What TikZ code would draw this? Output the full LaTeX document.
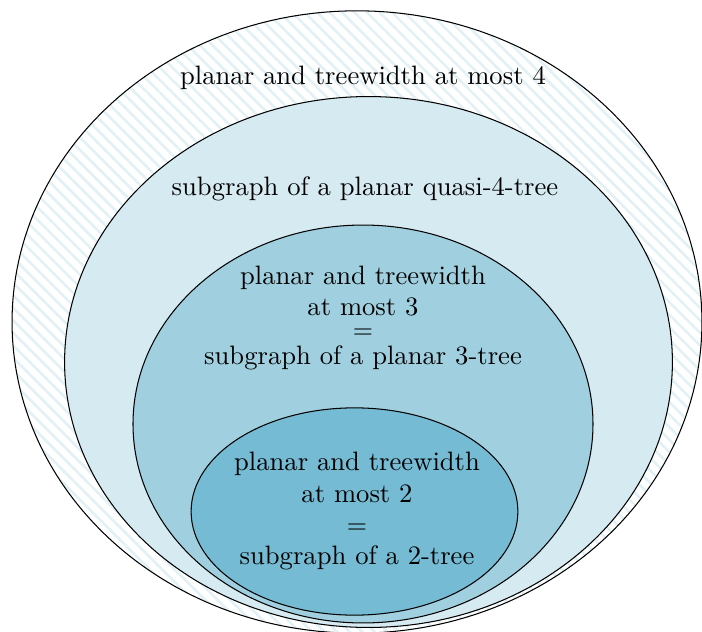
\documentclass[tikz,border=0pt]{standalone}
\usetikzlibrary{patterns.meta}
\definecolor{hatchc}{HTML}{E2F1F5}
\definecolor{lvA}{HTML}{D6EAF1}
\definecolor{lvB}{HTML}{A0D0E0}
\definecolor{lvC}{HTML}{75BBD3}
\tikzset{
  region/.style={draw=black, line width=0.4pt},
  lbl/.style={anchor=base, inner sep=0pt, font=\fontsize{10.25}{12}\selectfont}
}
\begin{document}
\begin{tikzpicture}[x=0.385pt,y=-0.385pt]
\useasboundingbox (0,0) rectangle (702,632);
% outer: planar and treewidth <= 4
\fill[pattern={Lines[angle=-45,distance=3.4pt,line width=1pt]}, pattern color=hatchc]
  (357,322) ellipse [x radius=132.8pt, y radius=119.8pt];
\draw[region] (357,322) ellipse [x radius=132.8pt, y radius=119.8pt];
% second
\filldraw[region, fill=lvA] (368.5,362) ellipse [x radius=117.0pt, y radius=102.2pt];
% third
\filldraw[region, fill=lvB] (363,424) ellipse [x radius=88.55pt, y radius=76.6pt];
% fourth
\filldraw[region, fill=lvC] (354.5,511.5) ellipse [x radius=62.9pt, y radius=39.9pt];
% labels
\node[lbl] (t4) at (363,84.5) {planar and treewidth at most 4};
\node[lbl] (q4) at (365,195.5) {subgraph of a planar quasi-4-tree};
\node[lbl] (a3) at (363,284.5) {planar and treewidth};
\node[lbl] (b3) at (363,315.5) {at most 3};
\node[lbl] (c3) at (363,338.5) {$=$};
\node[lbl] (d3) at (363,364.5) {subgraph of a planar 3-tree};
\node[lbl] (a2) at (357,470.5) {planar and treewidth};
\node[lbl] (b2) at (357,502.5) {at most 2};
\node[lbl] (c2) at (357,533.5) {$=$};
\node[lbl] (d2) at (357,564.5) {subgraph of a 2-tree};
\end{tikzpicture}
\end{document}
